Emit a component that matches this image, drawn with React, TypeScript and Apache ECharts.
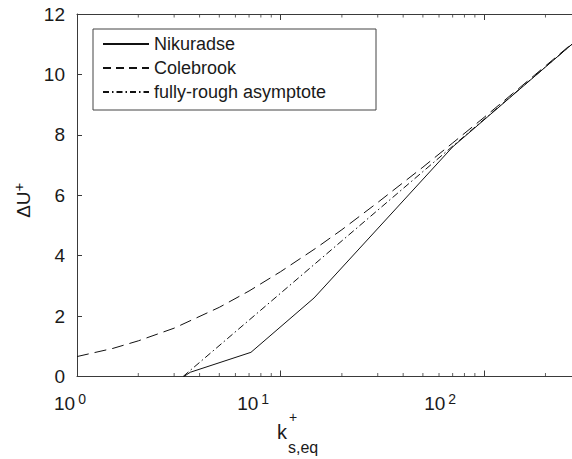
import React, { useEffect, useRef } from "react";
import * as echarts from "echarts";

// ---- data ----
const nikuradseK = [3.35, 3.6, 7.15, 14.6, 70, 270];
const nikuradseU = [0, 0.14, 0.8, 2.6, 7.6, 11.0];

const colebrookK = [1, 1.5, 2, 3, 5, 7, 10, 15, 20, 30, 50, 70, 100, 150, 200, 270];
const colebrookU = [0.66, 0.93, 1.18, 1.6, 2.29, 2.83, 3.47, 4.26, 4.86, 5.76, 6.93, 7.73, 8.58, 9.57, 10.28, 11.02];

const asymK = [3.32, 270];
const asymU = [0, 11.0];

const minorTickK = [2, 3, 4, 5, 6, 7, 8, 9, 20, 30, 40, 50, 60, 70, 80, 90, 200];

const seriesNames = ["Nikuradse", "Colebrook", "fully-rough asymptote"];
const yTicks = [0, 2, 4, 6, 8, 10, 12];

const FONT = "'Liberation Sans', Arial, Helvetica, sans-serif";
const TXT = "#1a1a1a";
const AX = "#3a3a3a";

const zip = (xs: number[], ys: number[]) => xs.map((x, i) => [x, ys[i]]);

export default function App() {
  const ref = useRef<HTMLDivElement>(null);
  useEffect(() => {
    if (!ref.current) return;
    const chart = echarts.init(ref.current, null, { renderer: "svg" });
    const xMin = 1;
    const xMax = 270;
    const yMin = yTicks[0];
    const yMax = yTicks[yTicks.length - 1];

    const xLabelFmt = (v: number) => {
      const e = Math.round(Math.log10(v));
      if (Math.abs(Math.pow(10, e) - v) > 1e-6 * v) return "";
      return `{b|10}{e|${e}}{p${e}| }`;
    };

    chart.setOption({
      animation: false,
      grid: { left: 77, top: 14, right: 0, bottom: 82.5, containLabel: false },
      xAxis: [
        {
          type: "log",
          logBase: 10,
          min: xMin,
          max: xMax,
          position: "bottom",
          axisLine: { show: true, lineStyle: { color: AX, width: 1 } },
          axisTick: { show: true, inside: true, length: 6, lineStyle: { color: AX } },
          splitLine: { show: false },
          minorTick: { show: false },
          axisLabel: {
            show: true,
            margin: 15,
            showMaxLabel: false,
            formatter: xLabelFmt,
            rich: {
              b: { fontSize: 19, fontFamily: FONT, color: TXT },
              e: { fontSize: 14, fontFamily: FONT, color: TXT, padding: [0, 0, 9, 3] },
              p0: { width: 14 },
              p1: { width: 55 },
              p2: { width: 88 },
            },
          },
        },
        {
          type: "log",
          logBase: 10,
          min: xMin,
          max: xMax,
          position: "top",
          axisLine: { show: true, lineStyle: { color: AX, width: 1 } },
          axisTick: { show: true, inside: true, length: 6, lineStyle: { color: AX } },
          axisLabel: { show: false },
          splitLine: { show: false },
        },
      ],
      yAxis: {
        type: "value",
        min: yMin,
        max: yMax,
        interval: 2,
        axisLine: { show: true, lineStyle: { color: AX, width: 1 } },
        axisTick: { show: true, inside: true, length: 5, lineStyle: { color: AX } },
        splitLine: { show: false },
        axisLabel: { fontSize: 19, fontFamily: FONT, color: TXT, margin: 12 },
        name: "{a|ΔU}{s|+}",
        nameLocation: "middle",
        nameRotate: 90,
        nameGap: 42,
        nameTextStyle: {
          padding: [0, 10, 0, 0],
          rich: {
            a: { fontSize: 19, fontFamily: FONT, color: TXT },
            s: { fontSize: 15, fontFamily: FONT, color: TXT, padding: [0, 0, 9, 0] },
          },
        },
      },
      legend: {
        show: true,
        orient: "vertical",
        left: 102,
        top: 35,
        padding: 0,
        itemWidth: 46,
        itemHeight: 14,
        itemGap: 6,
        z: 10,
        itemStyle: { opacity: 0 },
        textStyle: { fontSize: 18, fontFamily: FONT, color: TXT },
        data: [
          { name: seriesNames[0], itemStyle: { opacity: 0 } },
          { name: seriesNames[1], itemStyle: { opacity: 0 }, lineStyle: { type: [8, 5] } },
          { name: seriesNames[2], itemStyle: { opacity: 0 }, lineStyle: { type: [6, 3, 1.5, 3] } },
        ],
      },
      graphic: [
        {
          type: "rect",
          z: 5,
          shape: { x: 93, y: 29, width: 283, height: 81 },
          style: { fill: "#ffffff", stroke: "#444", lineWidth: 1 },
        },
        {
          type: "text",
          x: 277,
          y: 432,
          style: { text: "k", fontSize: 20, fontFamily: FONT, fill: TXT, verticalAlign: "middle", align: "left" },
        },
        {
          type: "text",
          x: 289,
          y: 417,
          style: { text: "+", fontSize: 14, fontFamily: FONT, fill: TXT, verticalAlign: "middle", align: "left" },
        },
        {
          type: "text",
          x: 288,
          y: 447,
          style: { text: "s,eq", fontSize: 16, fontFamily: FONT, fill: TXT, verticalAlign: "middle", align: "left" },
        },
      ],
      series: [
        {
          name: seriesNames[0],
          type: "line",
          data: zip(nikuradseK, nikuradseU),
          showSymbol: false,
          symbol: "none",
          lineStyle: { color: "#111", width: 1, type: "solid" },
          itemStyle: { color: "#111" },
          z: 3,
        },
        {
          name: seriesNames[1],
          type: "line",
          data: zip(colebrookK, colebrookU),
          showSymbol: false,
          symbol: "none",
          smooth: false,
          lineStyle: { color: "#111", width: 1, type: [12, 6] },
          itemStyle: { color: "#111" },
          z: 3,
        },
        {
          name: seriesNames[2],
          type: "line",
          data: zip(asymK, asymU),
          showSymbol: false,
          symbol: "none",
          lineStyle: { color: "#111", width: 1, type: [7, 3, 1.5, 3] },
          itemStyle: { color: "#111" },
          z: 3,
        },
        {
          name: "minorBottom",
          type: "scatter",
          data: minorTickK.map((k) => [k, yMin]),
          symbol: "rect",
          symbolSize: [1, 3.5],
          symbolOffset: [0, -1.75],
          itemStyle: { color: AX },
          clip: false,
          silent: true,
          z: 4,
        },
        {
          name: "minorTop",
          type: "scatter",
          data: minorTickK.map((k) => [k, yMax]),
          symbol: "rect",
          symbolSize: [1, 3.5],
          symbolOffset: [0, 1.75],
          itemStyle: { color: AX },
          clip: false,
          silent: true,
          z: 4,
        },
      ],
    });
    return () => chart.dispose();
  }, []);
  return (
    <div
      ref={ref}
      style={{ position: "fixed", left: 0, top: 0, width: 572, height: 459, background: "#fff" }}
    />
  );
}
